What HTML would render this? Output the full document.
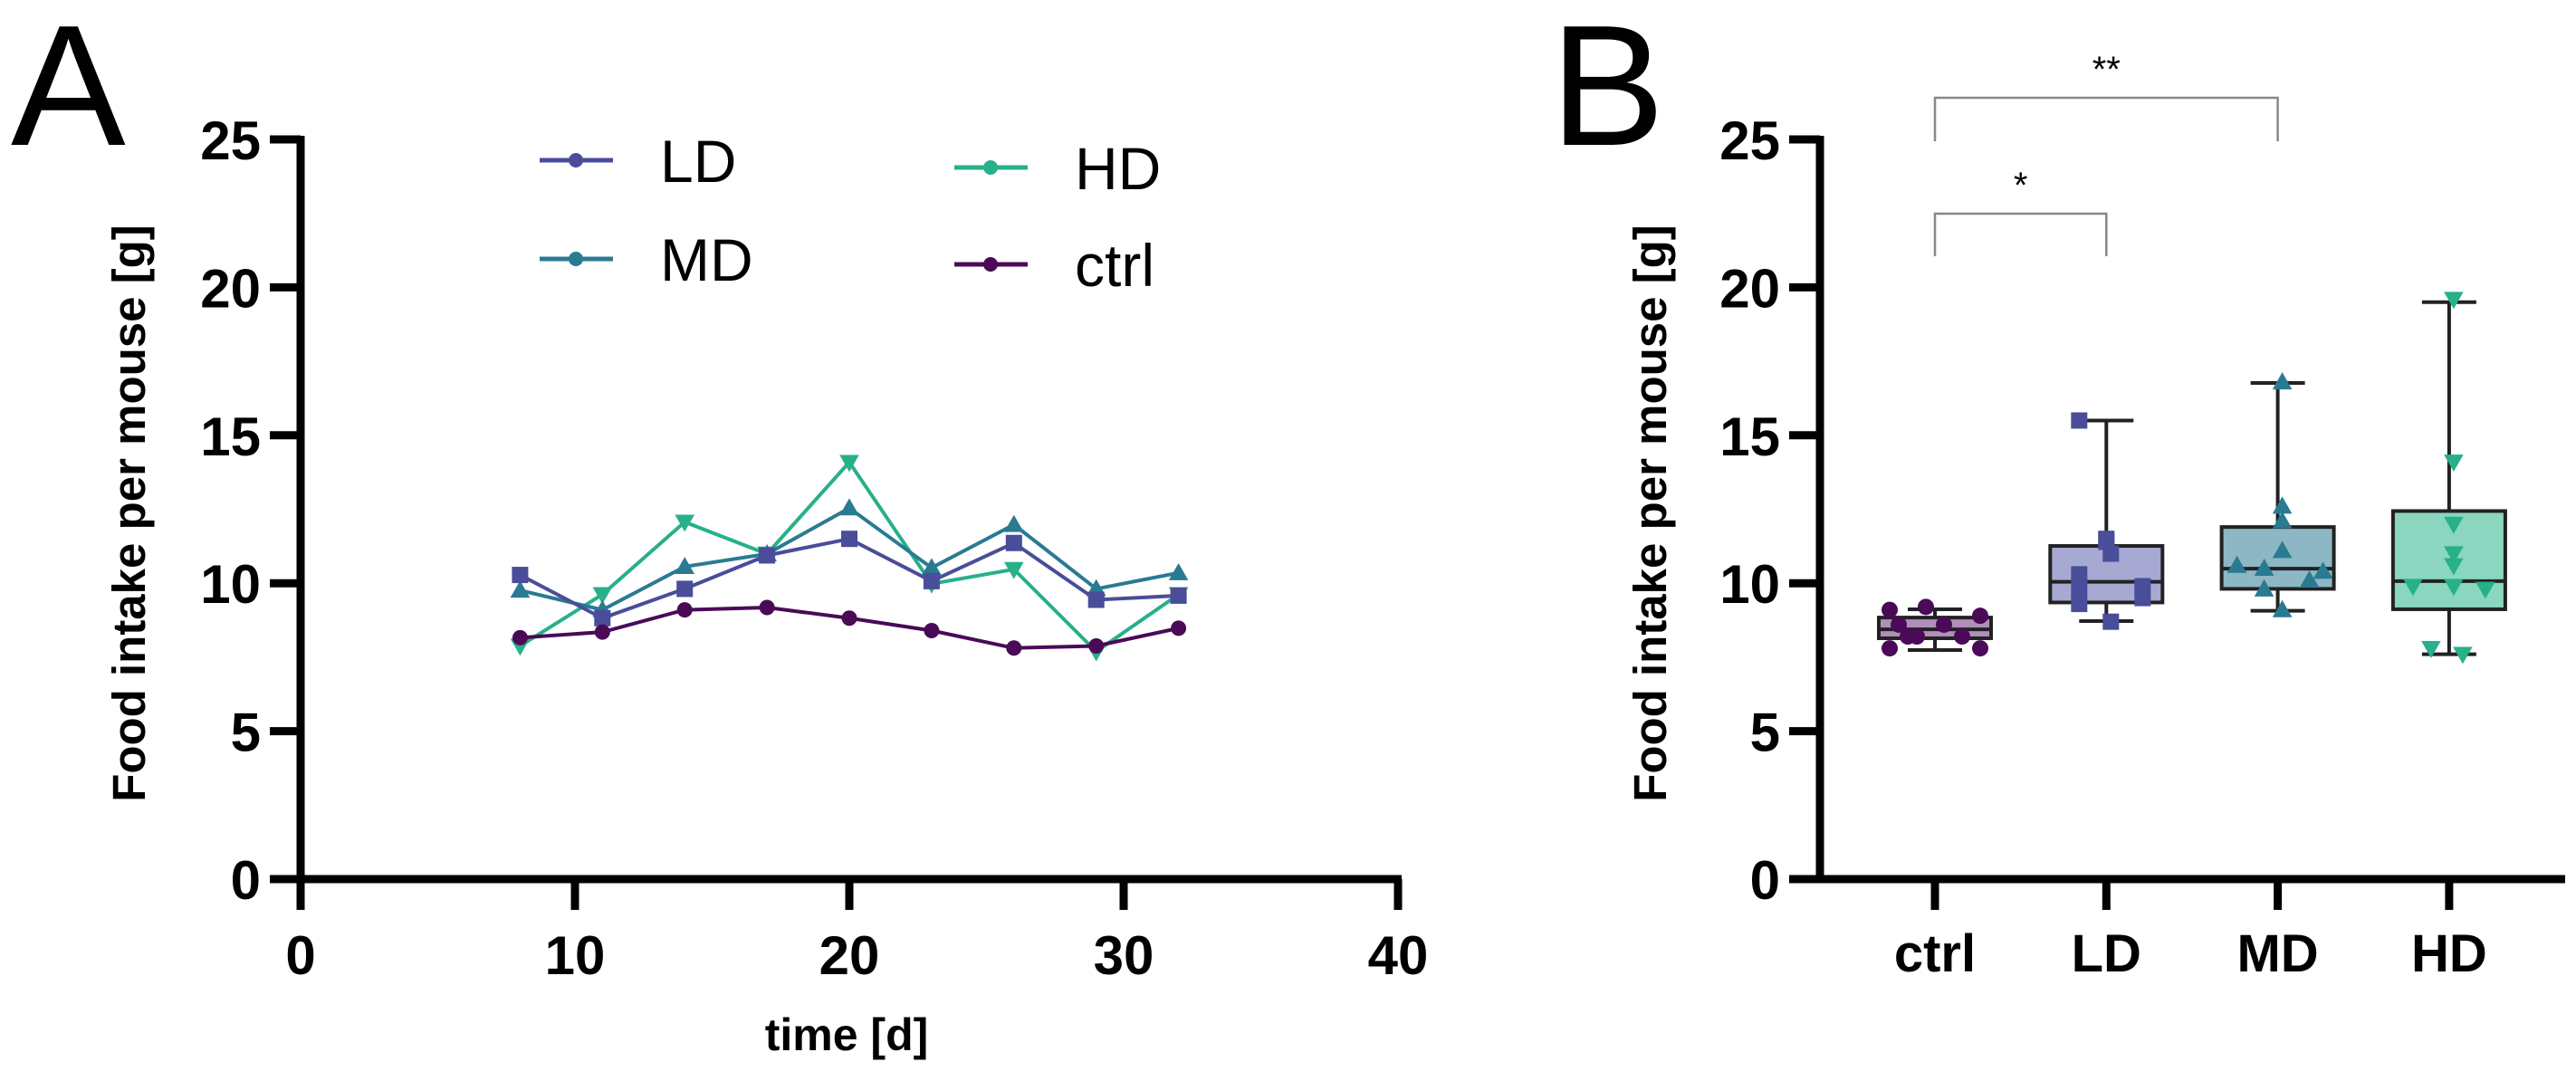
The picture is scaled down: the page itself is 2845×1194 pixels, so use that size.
<!DOCTYPE html>
<html><head><meta charset="utf-8"><style>
html,body{margin:0;padding:0;background:#fff;}
svg{display:block;font-family:"Liberation Sans",Arial,sans-serif;}
</style></head><body>
<svg id="fig" width="2845" height="1194" viewBox="0 0 2845 1194" xmlns="http://www.w3.org/2000/svg">
<text x="12" y="160" font-size="190" fill="#000">A</text>
<text x="1712" y="160" font-size="190" fill="#000">B</text>
<g id="pa"></g>
<g id="pb"></g>
</svg>
<script>
// Panel A data
const days = [8, 11, 14, 17, 20, 23, 26, 29, 32];
const ldSeries = [10.28, 8.82, 9.81, 10.94, 11.5, 10.07, 11.36, 9.44, 9.58];
const mdSeries = [9.76, 9.1, 10.56, 10.99, 12.54, 10.52, 11.98, 9.81, 10.35];
const hdSeries = [7.88, 9.62, 12.07, 10.99, 14.09, 9.98, 10.47, 7.69, 9.62];
const ctrlSeries = [8.16, 8.35, 9.1, 9.18, 8.82, 8.4, 7.81, 7.88, 8.48];
const xTicksA = [0, 10, 20, 30, 40];
const yTicks = [0, 5, 10, 15, 20, 25];
// Panel B data
const groups = ['ctrl', 'LD', 'MD', 'HD'];
const boxMin = [7.74, 8.72, 9.07, 7.6];
const boxQ1 = [8.14, 9.35, 9.81, 9.12];
const boxMed = [8.44, 10.05, 10.49, 10.07];
const boxQ3 = [8.84, 11.26, 11.9, 12.44];
const boxMax = [9.12, 15.5, 16.77, 19.5];
const ptsCtrl = [9.1, 8.6, 8.2, 7.8, 9.2, 8.6, 8.2, 7.8, 8.9, 8.2];
const ptsLD = [15.5, 11.4, 11.5, 11.0, 10.3, 9.8, 9.9, 9.5, 9.3, 8.7];
const ptsMD = [16.8, 12.6, 12.1, 11.1, 10.6, 10.5, 10.4, 10.1, 9.8, 9.1];
const ptsHD = [19.6, 14.1, 12.0, 11.0, 10.6, 9.9, 9.9, 9.8, 7.8, 7.6];
const sigLabels = ['*', '**'];

const NS = 'http://www.w3.org/2000/svg';
function mk(parent, tag, attrs, text){
  const e = document.createElementNS(NS, tag);
  for (const k in attrs) e.setAttribute(k, attrs[k]);
  if (text !== undefined) e.textContent = text;
  parent.appendChild(e);
  return e;
}
const cLD = '#4a4d99', cMD = '#2a7a92', cHD = '#27b08a', cCtrl = '#4a0a57';
const fLD = '#a7a9d2', fMD = '#8db7c4', fHD = '#8ad6be', fCtrl = '#b18fba';

function marker(g, shape, x, y, color, s){
  let e;
  if (shape === 'square') e = mk(g, 'rect', {x: x - s/2, y: y - s/2, width: s, height: s, fill: color});
  else if (shape === 'circle') e = mk(g, 'circle', {cx: x, cy: y, r: s/2, fill: color});
  else if (shape === 'up') e = mk(g, 'polygon', {points: `${x},${y - s*0.6} ${x - s*0.6},${y + s*0.45} ${x + s*0.6},${y + s*0.45}`, fill: color});
  else e = mk(g, 'polygon', {points: `${x},${y + s*0.6} ${x - s*0.6},${y - s*0.45} ${x + s*0.6},${y - s*0.45}`, fill: color});
  return e;
}

// Panel A
const pa = document.getElementById('pa');
const ax0 = 332, axPer = 30.3, ay0 = 971, ayPer = 32.68;
const xA = v => ax0 + v * axPer;
const yA = v => ay0 - v * ayPer;
let e;
e = mk(pa, 'line', {x1: xA(0), y1: yA(25) - 4, x2: xA(0), y2: yA(0) + 34, stroke: '#000', 'stroke-width': 9});


e = mk(pa, 'line', {x1: xA(0) - 34, y1: yA(0), x2: xA(40) + 4, y2: yA(0), stroke: '#000', 'stroke-width': 9});


yTicks.forEach(t => {
  mk(pa, 'line', {x1: xA(0) - 34, y1: yA(t), x2: xA(0), y2: yA(t), stroke: '#000', 'stroke-width': 9});
  e = mk(pa, 'text', {x: xA(0) - 44, y: yA(t) + 22, 'font-size': 60, 'font-weight': 'bold', 'text-anchor': 'end'}, t);
  
  
});
xTicksA.forEach(t => {
  mk(pa, 'line', {x1: xA(t), y1: yA(0), x2: xA(t), y2: yA(0) + 34, stroke: '#000', 'stroke-width': 9});
  e = mk(pa, 'text', {x: xA(t), y: yA(0) + 105, 'font-size': 60, 'font-weight': 'bold', 'text-anchor': 'middle'}, t);
  
  
});
e = mk(pa, 'text', {x: 935, y: 1160, 'font-size': 50, 'font-weight': 'bold', 'text-anchor': 'middle'}, 'time [d]');


e = mk(pa, 'text', {x: 0, y: 0, 'font-size': 51, 'font-weight': 'bold', 'text-anchor': 'middle', transform: 'translate(160,567) rotate(-90)'}, 'Food intake per mouse [g]');



const seriesA = [
  {name: 'hd', vals: hdSeries, color: cHD, shape: 'down', s: 18},
  {name: 'md', vals: mdSeries, color: cMD, shape: 'up', s: 18},
  {name: 'ld', vals: ldSeries, color: cLD, shape: 'square', s: 18},
  {name: 'ctrl', vals: ctrlSeries, color: cCtrl, shape: 'circle', s: 17}
];
seriesA.forEach(sr => {
  const g = mk(pa, 'g', {});
  
  
  const pts = days.map((d, i) => xA(d) + ',' + yA(sr.vals[i])).join(' ');
  mk(g, 'polyline', {points: pts, fill: 'none', stroke: sr.color, 'stroke-width': 4});
  days.forEach((d, i) => {
    const m = marker(g, sr.shape, xA(d), yA(sr.vals[i]), sr.color, sr.s);
    
    
  });
});
// Legend
const legend = [
  {label: 'LD', color: cLD, x: 596, y: 177},
  {label: 'MD', color: cMD, x: 596, y: 286},
  {label: 'HD', color: cHD, x: 1054, y: 185},
  {label: 'ctrl', color: cCtrl, x: 1054, y: 292}
];
legend.forEach(l => {
  const g = mk(pa, 'g', {});
  
  
  mk(g, 'line', {x1: l.x, y1: l.y, x2: l.x + 81, y2: l.y, stroke: l.color, 'stroke-width': 5});
  mk(g, 'circle', {cx: l.x + 40, cy: l.y, r: 8, fill: l.color});
  mk(g, 'text', {x: l.x + 133, y: l.y + 24, 'font-size': 66, fill: '#000'}, l.label);
});

// Panel B
const pb = document.getElementById('pb');
const bx0 = 2010, gx0 = 2137, gStep = 189.3;
const xB = i => gx0 + i * gStep;
const yB = v => ay0 - v * ayPer;
e = mk(pb, 'line', {x1: bx0, y1: yB(25) - 4, x2: bx0, y2: yB(0), stroke: '#000', 'stroke-width': 9});


e = mk(pb, 'line', {x1: bx0 - 34, y1: yB(0), x2: 2833, y2: yB(0), stroke: '#000', 'stroke-width': 9});


yTicks.forEach(t => {
  mk(pb, 'line', {x1: bx0 - 34, y1: yB(t), x2: bx0, y2: yB(t), stroke: '#000', 'stroke-width': 9});
  e = mk(pb, 'text', {x: bx0 - 44, y: yB(t) + 22, 'font-size': 60, 'font-weight': 'bold', 'text-anchor': 'end'}, t);
  
  
});
e = mk(pb, 'text', {x: 0, y: 0, 'font-size': 51, 'font-weight': 'bold', 'text-anchor': 'middle', transform: 'translate(1840,567) rotate(-90)'}, 'Food intake per mouse [g]');



const bColors = [cCtrl, cLD, cMD, cHD];
const bFills = [fCtrl, fLD, fMD, fHD];
const bShapes = ['circle', 'square', 'up', 'down'];
const bPts = [ptsCtrl, ptsLD, ptsMD, ptsHD];
const jitter = [[-50,-40,-30,-50,-10,10,30,50,50,-20],[-30,0,0,5,-30,-30,40,40,-30,5],[5,5,5,5,-45,-15,50,35,-15,5],[5,5,5,5,5,-40,5,40,-20,15]];
groups.forEach((gname, i) => {
  const cx = xB(i);
  const g = mk(pb, 'g', {});
  
  
  mk(g, 'line', {x1: cx, y1: yA(0), x2: cx, y2: yA(0) + 34, stroke: '#000', 'stroke-width': 9});
  const bw = 124;
  mk(g, 'line', {x1: cx, y1: yB(boxMax[i]), x2: cx, y2: yB(boxMin[i]), stroke: '#222', 'stroke-width': 4});
  mk(g, 'line', {x1: cx - 30, y1: yB(boxMax[i]), x2: cx + 30, y2: yB(boxMax[i]), stroke: '#222', 'stroke-width': 4});
  mk(g, 'line', {x1: cx - 30, y1: yB(boxMin[i]), x2: cx + 30, y2: yB(boxMin[i]), stroke: '#222', 'stroke-width': 4});
  mk(g, 'rect', {x: cx - bw/2, y: yB(boxQ3[i]), width: bw, height: yB(boxQ1[i]) - yB(boxQ3[i]), fill: bFills[i], stroke: '#222', 'stroke-width': 4});
  mk(g, 'line', {x1: cx - bw/2, y1: yB(boxMed[i]), x2: cx + bw/2, y2: yB(boxMed[i]), stroke: '#222', 'stroke-width': 4});
  bPts[i].forEach((v, j) => {
    const m = marker(g, bShapes[i], cx + jitter[i][j], yB(v), bColors[i], 18);
    
    
  });
  e = mk(pb, 'text', {x: cx, y: yB(0) + 102, 'font-size': 58, 'font-weight': 'bold', 'text-anchor': 'middle'}, gname);
  
  
});
// significance brackets
const brackets = [{a: 0, b: 1, top: 236, bot: 283, label: sigLabels[0], ly: 218}, {a: 0, b: 2, top: 108, bot: 156, label: sigLabels[1], ly: 90}];
brackets.forEach(bk => {
  const g = mk(pb, 'g', {});
  
  
  mk(g, 'polyline', {points: `${xB(bk.a)},${bk.bot} ${xB(bk.a)},${bk.top} ${xB(bk.b)},${bk.top} ${xB(bk.b)},${bk.bot}`, fill: 'none', stroke: '#888', 'stroke-width': 2.5});
  mk(g, 'text', {x: (xB(bk.a) + xB(bk.b)) / 2, y: bk.ly, 'font-size': 40, 'text-anchor': 'middle', fill: '#000'}, bk.label);
});
</script>
</body></html>
